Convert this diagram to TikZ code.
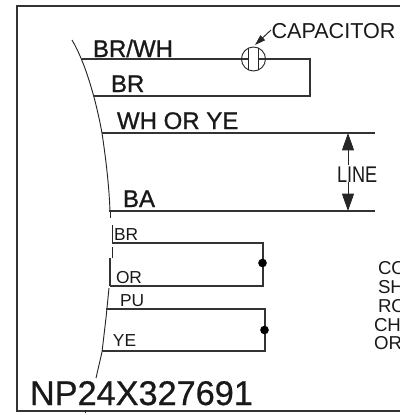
\documentclass[tikz,border=0pt]{standalone}
\usepackage{fontspec}
\setmainfont{Liberation Sans}
\newfontfamily\medfont[FakeBold=1]{Liberation Sans}
\newfontfamily\npfont[FakeBold=0.6]{Liberation Sans}
\newfontfamily\narrowfont[FakeStretch=0.8]{Liberation Sans}
\usetikzlibrary{arrows.meta}
\tikzset{
  wire/.style={draw=black!80,line width=0.9pt},
  thin wire/.style={draw=black!85,line width=0.7pt},
  lab/.style={anchor=base west,inner sep=0pt,outer sep=0pt,text=black!90},
  big/.style={lab,font=\medfont\fontsize{18}{18}\selectfont},
  small/.style={lab,font=\fontsize{13}{13}\selectfont},
  cutlab/.style={lab,font=\fontsize{14}{14}\selectfont},
  dotmark/.style={circle,fill=black,inner sep=0pt,minimum size=6.5pt},
  headtip/.style={-{Triangle[length=13pt,width=9pt]}},
}
\begin{document}
\begin{tikzpicture}[x=0.75pt,y=-0.75pt]
\useasboundingbox (0,0) rectangle (400,415);
\fill[white] (0,0) rectangle (400,415);
\begin{scope}
\clip (0,0) rectangle (400,415);
% frame
\draw[wire] (400,6) -- (17,6) -- (17,411) -- (400,411);
\draw[thin wire] (85,410) -- (85,413);
% curved break line
\draw[thin wire] (72,40) .. controls (84,60) and (95,95) .. (102,133) .. controls (106,160) and (109,185) .. (110,211);
\draw[thin wire] (110,211) -- (110,218);
\draw[thin wire] (112,225) -- (112,243);
\draw[thin wire] (112,247) -- (112,258);
\draw[wire] (110,258) -- (110,286);
\draw[thin wire] (109,288) -- (106,318) -- (102,352) -- (96,378);
% coordinates
\coordinate (a1) at (82,59); \coordinate (capL) at (248,59); \coordinate (capR) at (258,59);
\coordinate (a2) at (310,59); \coordinate (a3) at (310,96); \coordinate (a4) at (94,96);
\coordinate (b1) at (102,133); \coordinate (b2) at (375,133);
\coordinate (c1) at (109,211); \coordinate (c2) at (375,211);
\coordinate (d1) at (112,243); \coordinate (d2) at (263,243); \coordinate (d3) at (263,286); \coordinate (d4) at (110,286);
\coordinate (e1) at (106,309); \coordinate (e2) at (265,309); \coordinate (e3) at (265,351); \coordinate (e4) at (102,351);
% wires
\draw[wire] (a1) -- (capL);
\draw[wire] (capR) -- (a2) -- (a3) -- (a4);
\draw[wire] (b1) -- (b2);
\draw[wire] (c1) -- (c2);
\draw[wire] (d1) -- (d2) -- (d3) -- (d4);
\draw[wire] (e1) -- (e2) -- (e3) -- (e4);
% capacitor
\node[circle,draw=black!85,line width=0.7pt,minimum size=18pt,inner sep=0pt] (cap) at (253.5,59) {};
\draw[thin wire] (248,48) -- (248,70);
\draw[thin wire] (258,48) -- (258,70);
% dots
\node[dotmark] (j1) at (262.5,263) {};
\node[dotmark] (j2) at (264.5,330) {};
% labels
\node[big] (t1) at (93,57) {BR/WH};
\node[big] (t2) at (111,92) {BR};
\node[big] (t3) at (117,129) {WH OR YE};
\node[big] (t4) at (123,207) {BA};
\node[small] (t5) at (114,240) {BR};
\node[small] (t6) at (116,283) {OR};
\node[small] (t7) at (120,306) {PU};
\node[small] (t8) at (113,346) {YE};
\node[lab,font=\fontsize{16.2}{16}\selectfont] (cp) at (271.5,38) {CAPACITOR};
\node[lab,font=\narrowfont\fontsize{17}{17}\selectfont] (ln) at (337,182) {LINE};
\node[lab,font=\npfont\fontsize{25.7}{26}\selectfont] (np) at (30,405) {NP24X327691};
\node[cutlab] (r1) at (378,274) {CO};
\node[cutlab] (r2) at (378,293) {SH};
\node[cutlab] (r3) at (378,312) {RO};
\node[cutlab] (r4) at (374,331) {CH};
\node[cutlab] (r5) at (374,349) {OR};
% arrows
\coordinate (up0) at (348,165); \coordinate (up1) at (348,133);
\coordinate (dn0) at (348,182); \coordinate (dn1) at (348,211);
\draw[thin wire,headtip] (up0) -- (up1);
\draw[thin wire,headtip] (dn0) -- (dn1);
\coordinate (cpl) at (271,30); \coordinate (cpt) at (255,45);
\draw[thin wire,-{Triangle[length=8pt,width=5pt]}] (cpl) -- (cpt);
\end{scope}
\end{tikzpicture}
\end{document}
